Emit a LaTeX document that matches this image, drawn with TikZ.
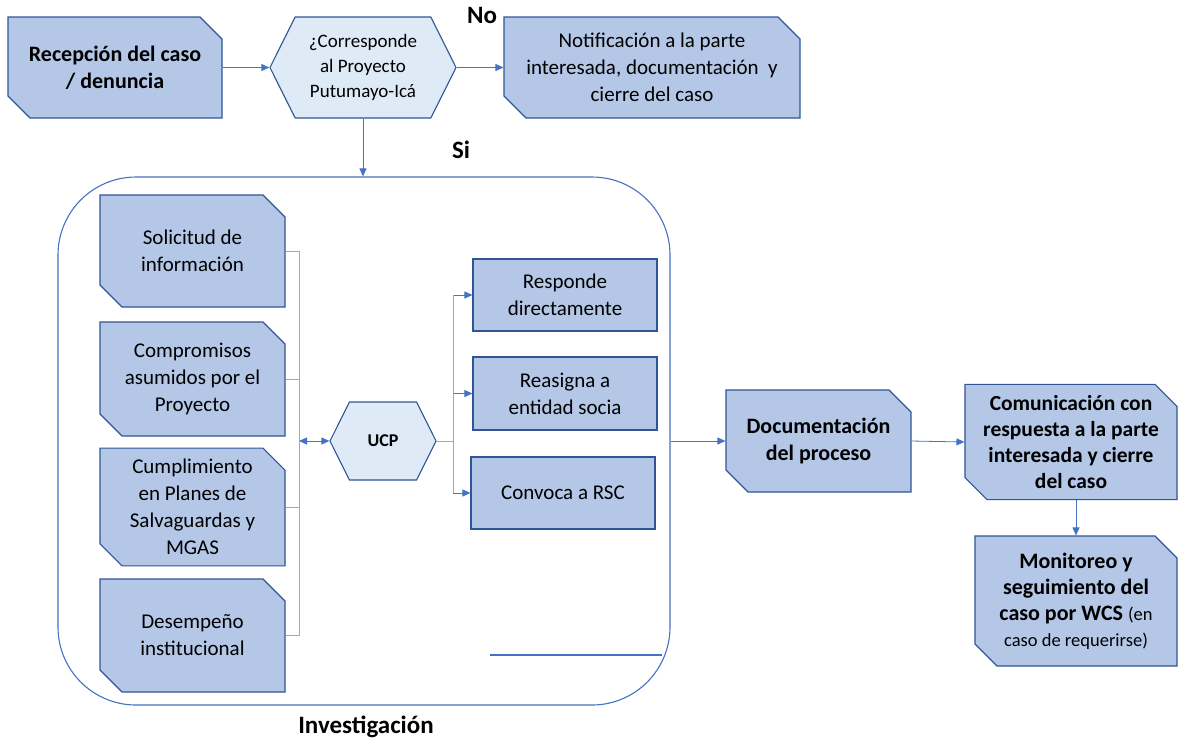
\documentclass[tikz,border=0pt]{standalone}
\usepackage{fontspec}
\setmainfont{Carlito}
\usetikzlibrary{shapes.misc,shapes.symbols,arrows.meta}
\definecolor{relleno}{HTML}{B4C7E7}
\definecolor{borde}{HTML}{2F5597}
\definecolor{claro}{HTML}{DEEBF7}
\definecolor{flecha}{HTML}{4472C4}
\definecolor{bus}{HTML}{8FAADC}
\tikzset{
  font={\fontsize{21pt}{27pt}\selectfont},
  caja/.style={chamfered rectangle, chamfered rectangle corners={north east,south west},
    chamfered rectangle xsep=11pt, chamfered rectangle ysep=11pt,
    draw=borde, fill=relleno, line width=1.1pt, align=center, inner sep=0pt},
  recta/.style={rectangle, draw=borde, fill=relleno, line width=1.1pt, align=center, inner sep=0pt},
  hexa/.style={signal, signal to=west and east, signal pointer angle=127,
    draw=borde, fill=claro, line width=1.1pt, align=center, inner sep=0pt},
  flechita/.style={draw=flecha, line width=0.8pt, -{Triangle[length=8pt,width=7pt]}},
  linea/.style={draw=bus, line width=0.8pt},
  etiqueta/.style={font={\fontsize{25pt}{28pt}\selectfont\bfseries}}
}

\begin{document}
\begin{tikzpicture}[x=1pt,y=-1pt]
\useasboundingbox (0,0) rectangle (1182,740);
% fila de arriba
\node [caja, minimum width=214pt, minimum height=101pt,
  font={\fontsize{22pt}{27pt}\selectfont\bfseries}] (rec) at (115,67.5) {Recepción del caso\\ / denuncia};
\node [hexa, minimum width=186pt, minimum height=101pt,
  font={\fontsize{19pt}{25pt}\selectfont}] (corr) at (363,67.5) {¿Corresponde\\ al Proyecto\\ Putumayo-Icá};
\node [caja, minimum width=296pt, minimum height=101pt] (notif) at (652,67.5)
  {Notificación a la parte\\ interesada, documentación~~y\\ cierre del caso};
\node [etiqueta] (no) at (482,15) {No};
\node [etiqueta] (si) at (461,150) {Si};
% investigacion
\node [draw=flecha, line width=1.1pt, rounded corners=78pt, minimum width=612pt,
  minimum height=528pt] (inv) at (364,441) {};
\node [etiqueta] (invlbl) at (366,727) {Investigación};
\node [caja, minimum width=185pt, minimum height=112pt] (sol) at (192.5,251) {Solicitud de\\ información};
\node [caja, minimum width=185pt, minimum height=114pt] (comp) at (192.5,379) {Compromisos\\ asumidos por el\\ Proyecto};
\node [caja, minimum width=185pt, minimum height=114pt] (cum) at (192.5,507) {Cumplimiento\\ en Planes de\\ Salvaguardas y\\ MGAS};
\node [caja, minimum width=185pt, minimum height=113pt] (des) at (192.5,635.5) {Desempeño\\ institucional};
\node [hexa, minimum width=106pt, minimum height=78pt,
  font={\fontsize{18pt}{20pt}\selectfont\bfseries}] (ucp) at (383,441) {UCP};
\node [recta, minimum width=184pt, minimum height=72pt] (resp) at (565,295) {Responde\\ directamente};
\node [recta, minimum width=184pt, minimum height=73pt] (reas) at (565,393.5) {Reasigna a\\ entidad socia};
\node [recta, minimum width=184pt, minimum height=72pt] (conv) at (563,493) {Convoca a RSC};
% derecha
\node [caja, minimum width=185pt, minimum height=102pt,
  font={\fontsize{22pt}{27pt}\selectfont\bfseries}] (doc) at (818.5,441) {Documentación\\ del proceso};
\node [caja, minimum width=212pt, minimum height=102pt,
  font={\fontsize{21.5pt}{26pt}\selectfont\bfseries}] (com) at (1071,442)
  {Comunicación con\\ respuesta a la parte\\ interesada y cierre\\ del caso};
\node [caja, minimum width=202pt, minimum height=130pt,
  font={\fontsize{22pt}{26pt}\selectfont\bfseries}] (mon) at (1076,601)
  {Monitoreo y\\ seguimiento del\\ caso por WCS {\fontsize{18.5pt}{26pt}\selectfont\mdseries (en}\\
   {\fontsize{18.5pt}{26pt}\selectfont\mdseries caso de requerirse)}};
% conectores
\coordinate (busx) at (299,0);
\coordinate (fork) at (453,0);
\draw [flechita] (rec.east) -- (corr.west);
\draw [flechita] (corr.east) -- (notif.west);
\draw [flechita] (corr.south) -- (corr.south |- inv.north);
\draw [linea] (sol.east) -| (busx |- des.east) -- (des.east);
\draw [linea] (comp.east) -- (busx |- comp.east);
\draw [linea] (cum.east) -- (busx |- cum.east);
\draw [flechita, {Triangle[length=8pt,width=7pt]}-{Triangle[length=8pt,width=7pt]}] (busx |- ucp.west) -- (ucp.west);
\draw [linea] (ucp.east) -- (fork |- ucp.east);
\draw [flechita] (fork |- resp.west) -- (resp.west);
\draw [flechita] (fork |- reas.west) -- (reas.west);
\draw [flechita] (fork |- conv.west) -- (conv.west);
\draw [linea] (fork |- resp.west) -- (fork |- conv.west);
\draw [flechita] (inv.east) -- (doc.west);
\draw [flechita] (doc.east) -- (com.west);
\draw [flechita] (com.south -| mon.north) -- (mon.north);
\draw [flecha, line width=1.1pt] (490,655) -- (662,655);
\end{tikzpicture}
\end{document}
